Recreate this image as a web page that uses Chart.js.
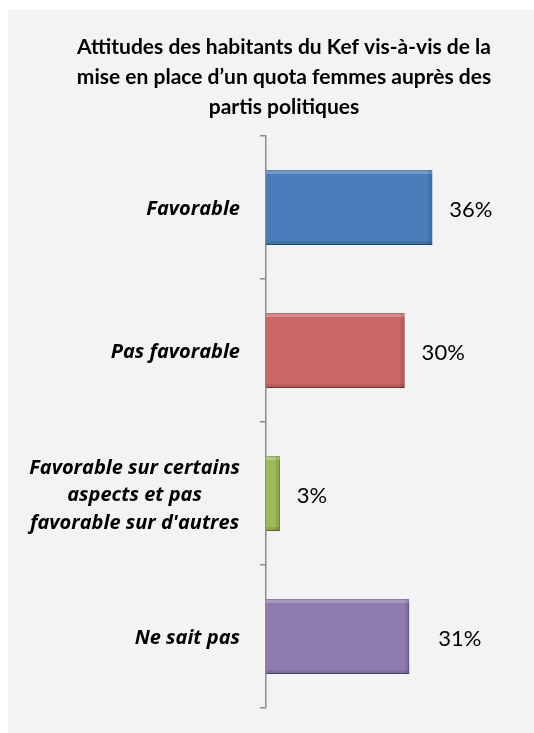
<!DOCTYPE html>
<html>
<head>
<meta charset="utf-8">
<script src="https://cdn.jsdelivr.net/npm/chart.js@4"></script>
<style>
  html, body { margin: 0; padding: 0; background: #ffffff; }
  #wrap { width: 534px; height: 733px; position: relative; }
</style>
</head>
<body>
<div id="wrap"><canvas id="c" width="534" height="733"></canvas></div>
<script>
const titleLines = ["Attitudes des habitants du Kef vis-à-vis de la", "mise en place d\u2019un quota femmes auprès des", "partis politiques"];
const categories = [
  ["Favorable"],
  ["Pas favorable"],
  ["Favorable sur certains", "aspects et pas", "favorable sur d'autres"],
  ["Ne sait pas"]
];
const values = [36, 30, 3, 31];
const valueLabels = ["36%", "30%", "3%", "31%"];
const barColors = ["#4a7ebb", "#cd6766", "#9bbb59", "#8e7cb0"];
const barEdge = ["#3b6699", "#a94f4e", "#7f9b45", "#725f93"];

const bgPlugin = {
  id: 'bg',
  beforeDraw(chart) {
    const ctx = chart.ctx;
    ctx.save();
    ctx.fillStyle = '#ffffff';
    ctx.fillRect(0, 0, chart.width, chart.height);
    ctx.fillStyle = '#f3f3f3';
    ctx.fillRect(8, 10, chart.width - 8, chart.height - 10);
    ctx.restore();
  }
};

const shadowPlugin = {
  id: 'shadow',
  beforeDatasetsDraw(chart) {
    const ctx = chart.ctx;
    ctx.save();
    ctx.shadowColor = 'rgba(0,0,0,0.35)';
    ctx.shadowBlur = 4;
    ctx.shadowOffsetX = 1;
    ctx.shadowOffsetY = 2;
  },
  afterDatasetsDraw(chart) {
    chart.ctx.restore();
    const ctx = chart.ctx;
    const meta = chart.getDatasetMeta(0);
    ctx.save();
    meta.data.forEach((bar) => {
      const left = bar.base, right = bar.x;
      const top = bar.y - bar.height / 2, bottom = bar.y + bar.height / 2;
      ctx.fillStyle = 'rgba(255,255,255,0.22)';
      ctx.fillRect(left, top, right - left, 4);
      ctx.fillStyle = 'rgba(0,0,0,0.10)';
      ctx.fillRect(left, bottom - 4, right - left, 4);
      ctx.fillRect(right - 4, top, 4, bottom - top);
    });
    ctx.restore();
  }
};

const labelPlugin = {
  id: 'valueLabels',
  afterDatasetsDraw(chart, args, opts) {
    const ctx = chart.ctx;
    const meta = chart.getDatasetMeta(0);
    ctx.save();
    ctx.font = '22px Lato';
    ctx.fillStyle = '#000000';
    ctx.textAlign = 'left';
    ctx.textBaseline = 'middle';
    meta.data.forEach((bar, i) => {
      ctx.fillText(valueLabels[i], bar.x + 17 + (opts.shift[i] || 0), bar.y + 2);
    });
    ctx.restore();
  }
};

// category labels: block right-aligned to the axis, lines centred within the block
const catLabelPlugin = {
  id: 'catLabels',
  afterDraw(chart, args, opts) {
    const ctx = chart.ctx;
    const yScale = chart.scales.y;
    ctx.save();
    ctx.font = opts.font;
    ctx.fillStyle = '#000000';
    ctx.textAlign = 'center';
    ctx.textBaseline = 'middle';
    const right = chart.chartArea.left - opts.gap;
    categories.forEach((lines, i) => {
      const maxW = Math.max(...lines.map(l => ctx.measureText(l).width));
      const cx = right - maxW / 2;
      const cy = yScale.getPixelForValue(i) + 2;
      const n = lines.length;
      lines.forEach((l, k) => {
        ctx.fillText(l, cx, cy + (k - (n - 1) / 2) * opts.lineHeight);
      });
    });
    ctx.restore();
  }
};

new Chart(document.getElementById('c'), {
  type: 'bar',
  data: {
    labels: categories,
    datasets: [{
      data: values,
      backgroundColor: barColors,
      borderColor: barEdge,
      borderWidth: 1,
      borderSkipped: 'left',
      barPercentage: 0.525,
      categoryPercentage: 1.0
    }]
  },
  options: {
    indexAxis: 'y',
    responsive: false,
    animation: false,
    devicePixelRatio: 1,
    layout: { padding: { left: 34, right: 0, top: 0, bottom: 25 } },
    plugins: {
      legend: { display: false },
      tooltip: { enabled: false },
      valueLabels: { shift: [0, 0, 0, 12] },
      catLabels: { font: 'italic bold 20px "Open Sans"', gap: 26, lineHeight: 27.5 },
      title: {
        display: true,
        text: titleLines,
        color: '#000000',
        font: { family: 'Lato', size: 21, weight: 'bold', lineHeight: 1.43 },
        padding: { top: 32, bottom: 14 }
      }
    },
    scales: {
      x: {
        display: false,
        min: 0,
        max: 58
      },
      y: {
        offset: true,
        afterFit(scale) { scale.width = 232; scale.paddingTop = 0; scale.paddingBottom = 0; },
        border: { display: true, color: '#8c8c8c', width: 1.5 },
        grid: { drawOnChartArea: false, drawTicks: true, tickLength: 6, color: '#8c8c8c', lineWidth: 1.5, offset: true },
        ticks: { display: false }
      }
    }
  },
  plugins: [bgPlugin, shadowPlugin, labelPlugin, catLabelPlugin]
});
</script>
</body>
</html>
